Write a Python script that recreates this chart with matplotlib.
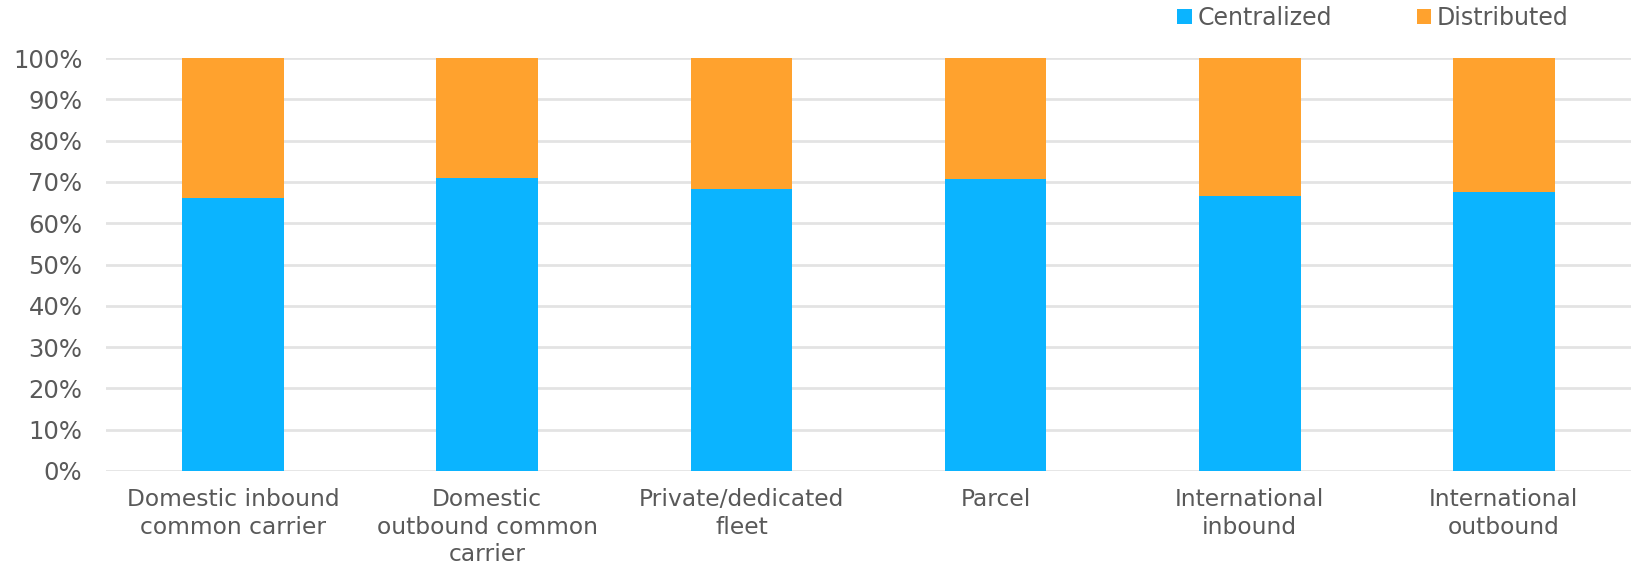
import numpy as np
import matplotlib.pyplot as plt
from matplotlib.ticker import PercentFormatter

categories = ["Domestic inbound\ncommon carrier", "Domestic\noutbound common\ncarrier",
              "Private/dedicated\nfleet", "Parcel", "International\ninbound", "International\noutbound"]
centralized = [66.2, 71.0, 68.2, 70.7, 66.7, 67.6]
distributed = [100 - v for v in centralized]

blue = "#0BB4FF"
orange = "#FFA22E"
grey = "#595959"

fig = plt.figure(figsize=(16.33, 5.7), dpi=100)
ax = fig.add_axes([106 / 1633, 1 - 471 / 570, 1525 / 1633, 413 / 570])

x = np.arange(len(categories))
ax.bar(x, centralized, width=0.4, color=blue, label="Centralized", zorder=3)
ax.bar(x, distributed, width=0.4, bottom=centralized, color=orange, label="Distributed", zorder=3)

ax.set_xlim(-0.5, len(categories) - 0.5)
ax.set_ylim(0, 100)
ax.set_yticks(np.arange(0, 101, 10))
ax.yaxis.set_major_formatter(PercentFormatter(decimals=0))
ax.grid(axis="y", color="#E3E3E3", linewidth=2, zorder=0)
for s in ax.spines.values():
    s.set_visible(False)
ax.set_xticks(x)
ax.set_xticklabels(categories, linespacing=1.27)
ax.tick_params(axis="both", length=0, labelsize=16.8, labelcolor=grey)
ax.tick_params(axis="y", labelsize=17.5, pad=17)
ax.tick_params(axis="x", pad=12)

leg = fig.legend(loc="center right", bbox_to_anchor=(1590 / 1633, 1 - 18 / 570), ncol=2, frameon=False,
                 fontsize=17, handlelength=0.6, handleheight=0.6, handletextpad=0.25,
                 columnspacing=3.6, labelcolor=grey)

plt.savefig("out.png", dpi=100)
